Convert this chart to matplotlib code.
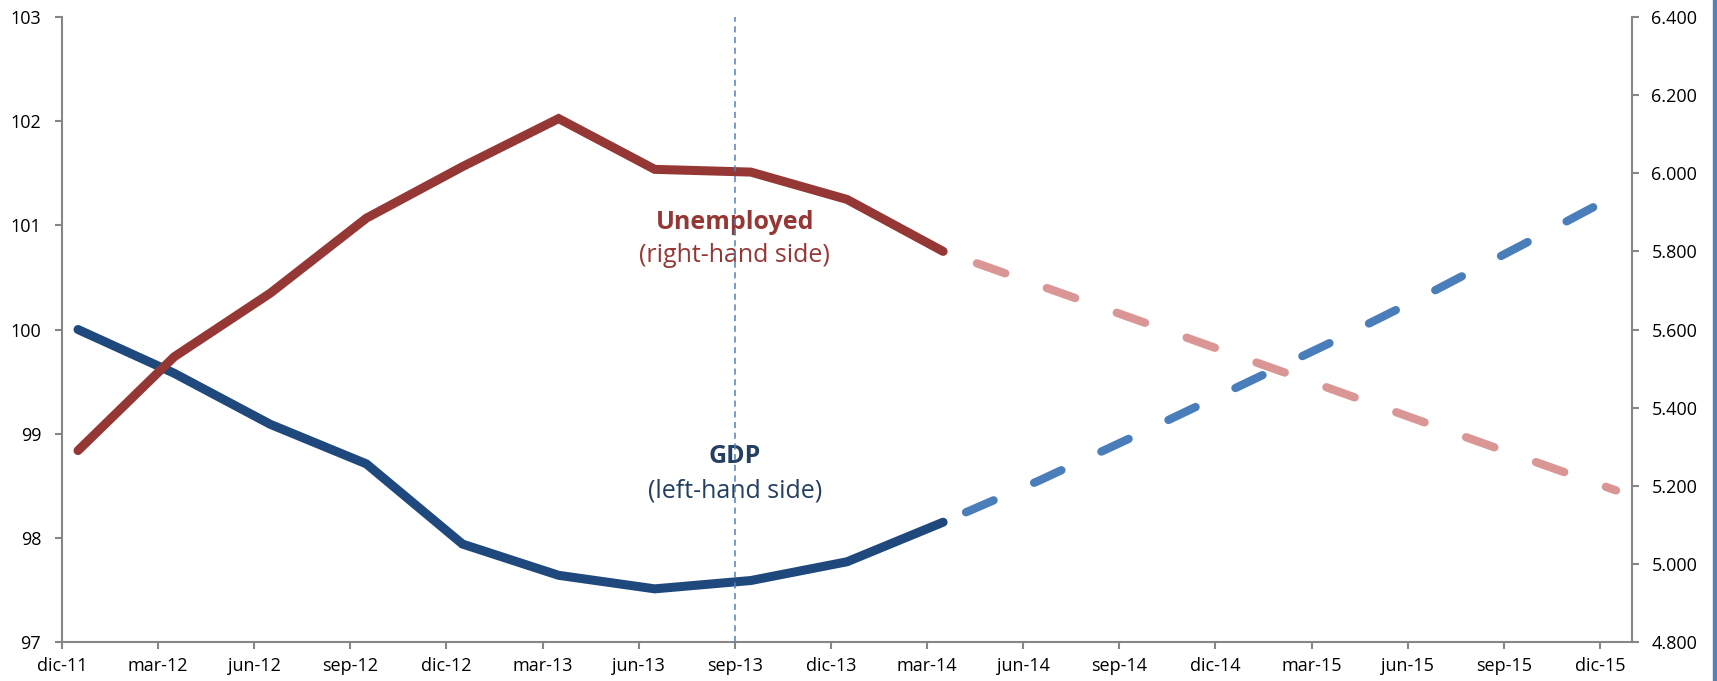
import matplotlib
matplotlib.use("Agg")
import matplotlib.pyplot as plt
from matplotlib.patches import Rectangle

# quarterly labels, dic-11 .. dic-15
quarters = ["dic-11", "mar-12", "jun-12", "sep-12", "dic-12", "mar-13", "jun-13",
            "sep-13", "dic-13", "mar-14", "jun-14", "sep-14", "dic-14", "mar-15",
            "jun-15", "sep-15", "dic-15"]

# GDP index (left axis): observed to mar-14, forecast mar-14 .. dic-15
gdp_obs = [100.0, 99.58, 99.09, 98.71, 97.94, 97.64, 97.51, 97.59, 97.77, 98.15]
gdp_fc = [98.15, 98.55, 98.98, 99.42, 99.86, 100.32, 100.80, 101.29]

# unemployed, thousands (right axis)
unemp_obs = [5.290, 5.530, 5.693, 5.885, 6.017, 6.140, 6.010, 6.003, 5.933, 5.800]
unemp_fc = [5.800, 5.713, 5.626, 5.538, 5.451, 5.363, 5.275, 5.188]

left_ticks = [97, 98, 99, 100, 101, 102, 103]
right_ticks = [4.8, 5.0, 5.2, 5.4, 5.6, 5.8, 6.0, 6.2, 6.4]
marker_quarter = "sep-13"

GDP_DARK = "#1F497D"
GDP_LIGHT = "#4A7EBB"
UN_DARK = "#953735"
UN_LIGHT = "#DA9694"
AXIS_GREY = "#868686"

plt.rcParams["font.family"] = ["Open Sans", "DejaVu Sans"]

# x in months from dic-11; data sit mid-month, ticks at month start
tick_x = [3 * i for i in range(len(quarters))]
pt_x = [3 * i + 0.5 for i in range(len(quarters))]
n_obs = len(gdp_obs)
x_obs = pt_x[:n_obs]
x_fc = pt_x[n_obs - 1:]

fig = plt.figure(figsize=(17.17, 6.81), dpi=100)
ax = fig.add_axes([0.0361, 0.0573, 0.9144, 0.9177])
ax2 = ax.twinx()

ax.plot(x_fc, gdp_fc, color=GDP_LIGHT, lw=6, solid_capstyle="round",
        dash_capstyle="round", linestyle=(5.9, (3.6, 5.3)), zorder=2)
ax.plot(x_obs, gdp_obs, color=GDP_DARK, lw=6.5, solid_capstyle="round",
        solid_joinstyle="miter", zorder=3)

ax2.plot(x_fc, unemp_fc, color=UN_LIGHT, lw=6, dash_capstyle="round",
         linestyle=(4.6, (3.6, 5.3)), zorder=2)
ax2.plot(x_obs, unemp_obs, color=UN_DARK, lw=6.5, solid_capstyle="round",
         solid_joinstyle="miter", zorder=3)

vx = tick_x[quarters.index(marker_quarter)]
ax2.axvline(vx, color="#4F81BD", lw=1.1, linestyle=(0, (4, 3)), zorder=5)

tr = ax2.get_xaxis_transform()
ax2.text(vx, 0.672, "Unemployed", transform=tr, ha="center", va="center",
         fontsize=18, fontweight="bold", color=UN_DARK)
ax2.text(vx, 0.618, "(right-hand side)", transform=tr, ha="center", va="center",
         fontsize=18, color=UN_DARK)
ax2.text(vx, 0.296, "GDP", transform=tr, ha="center", va="center",
         fontsize=18, fontweight="bold", color="#243F60")
ax2.text(vx, 0.242, "(left-hand side)", transform=tr, ha="center", va="center",
         fontsize=18, color="#243F60")

ax.set_xlim(0, 49)
ax.set_ylim(97, 103)
ax2.set_ylim(4.8, 6.4)
ax.set_xticks(tick_x)
ax.set_xticklabels(quarters)
ax.set_yticks(left_ticks)
ax.set_yticklabels([str(v) for v in left_ticks])
ax2.set_yticks(right_ticks)
ax2.set_yticklabels([f"{v:.3f}" for v in right_ticks])

for a in (ax, ax2):
    a.spines["top"].set_visible(False)
    for s in ("left", "right", "bottom"):
        a.spines[s].set_color(AXIS_GREY)
        a.spines[s].set_linewidth(1.5)
    a.tick_params(axis="both", colors=AXIS_GREY, labelcolor="black",
                  labelsize=13, direction="out", length=5, width=1.5)
ax.spines["right"].set_visible(False)
ax2.spines["left"].set_visible(False)
ax2.spines["bottom"].set_visible(False)
ax.tick_params(axis="y", pad=10)
ax2.tick_params(axis="y", pad=9)
ax.tick_params(axis="x", pad=6)

# blue frame edge on the right of the original image
fig.patches.append(Rectangle((1713 / 1717, 0), 4 / 1717, 1, transform=fig.transFigure,
                             color="#4F81BD", zorder=10))

fig.savefig("out.png", dpi=100)
